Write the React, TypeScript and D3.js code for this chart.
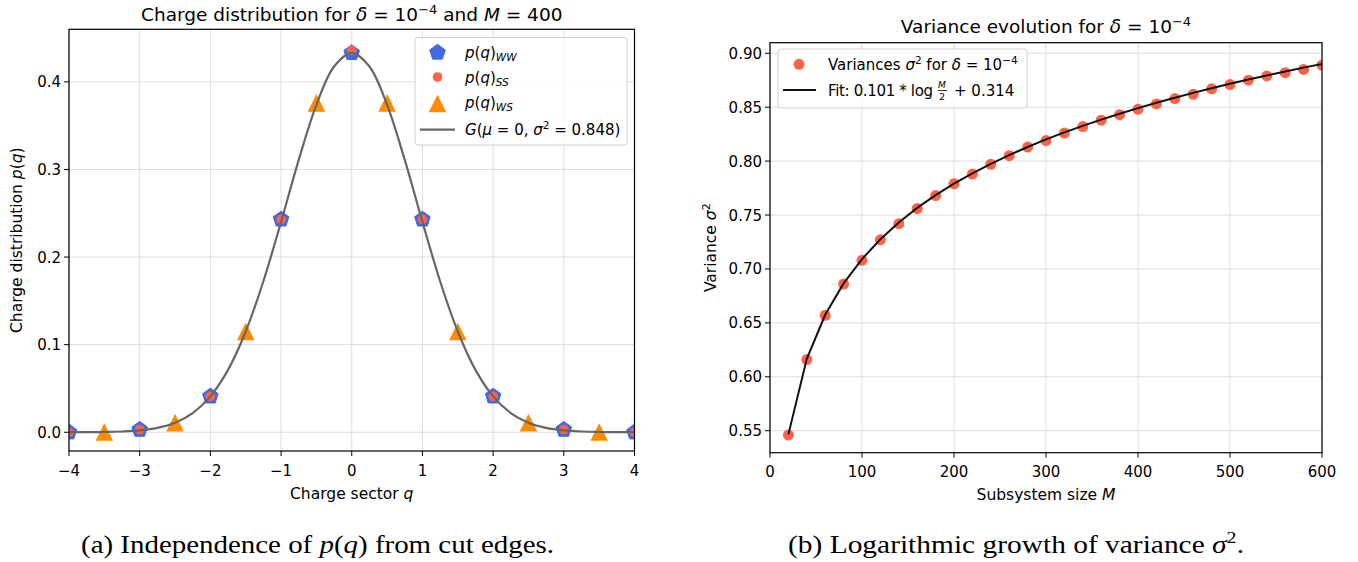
import React from "react";
import * as d3 from "d3";

// ---------- Data: left panel ----------
const qInt = [-4, -3, -2, -1, 0, 1, 2, 3, 4];
const pWW = [0.0, 0.003, 0.041, 0.243, 0.433, 0.243, 0.041, 0.003, 0.0];
const pSS = [0.0, 0.003, 0.041, 0.243, 0.436, 0.243, 0.041, 0.003, 0.0];
const qHalf = [-3.5, -2.5, -1.5, -0.5, 0.5, 1.5, 2.5, 3.5];
const pWS = [0.0003, 0.011, 0.115, 0.376, 0.376, 0.115, 0.011, 0.0003];
// Gaussian G(mu=0, sigma^2=0.848), sampled every 0.25
const gaussQ = [
  -4, -3.75, -3.5, -3.25, -3, -2.75, -2.5, -2.25, -2, -1.75, -1.5, -1.25, -1, -0.75, -0.5, -0.25, 0,
  0.25, 0.5, 0.75, 1, 1.25, 1.5, 1.75, 2, 2.25, 2.5, 2.75, 3, 3.25, 3.5, 3.75, 4,
];
const gaussP = [
  0.00003, 0.00011, 0.00032, 0.00086, 0.00215, 0.00502, 0.01087, 0.0219, 0.041, 0.0712, 0.115, 0.1724,
  0.2402, 0.3109, 0.3738, 0.4175, 0.4332, 0.4175, 0.3738, 0.3109, 0.2402, 0.1724, 0.115, 0.0712, 0.041,
  0.0219, 0.01087, 0.00502, 0.00215, 0.00086, 0.00032, 0.00011, 0.00003,
];
const leftXTicks = [-4, -3, -2, -1, 0, 1, 2, 3, 4];
const leftYTicks = [0.0, 0.1, 0.2, 0.3, 0.4];

// ---------- Data: right panel ----------
const sizesM = [
  20, 40, 60, 80, 100, 120, 140, 160, 180, 200, 220, 240, 260, 280, 300, 320, 340, 360, 380, 400, 420,
  440, 460, 480, 500, 520, 540, 560, 580, 600,
];
const variances = [
  0.546, 0.616, 0.657, 0.686, 0.708, 0.727, 0.742, 0.756, 0.768, 0.779, 0.788, 0.797, 0.805, 0.813,
  0.819, 0.826, 0.832, 0.838, 0.843, 0.848, 0.853, 0.858, 0.862, 0.867, 0.871, 0.875, 0.879, 0.882,
  0.885, 0.889,
];
const fitValues = [
  0.5466, 0.6166, 0.6575, 0.6866, 0.7091, 0.7275, 0.7431, 0.7566, 0.7685, 0.7791, 0.7887, 0.7975,
  0.8056, 0.8131, 0.8201, 0.8266, 0.8327, 0.8385, 0.8439, 0.8491, 0.8541, 0.8588, 0.8633, 0.8675,
  0.8717, 0.8756, 0.8794, 0.8831, 0.8867, 0.8901,
];
const rightXTicks = [0, 100, 200, 300, 400, 500, 600];
const rightYTicks = [0.55, 0.6, 0.65, 0.7, 0.75, 0.8, 0.85, 0.9];

const FONT = "DejaVu Sans, sans-serif";
const SERIF = "Liberation Serif, DejaVu Serif, serif";
const BLUE = "#4169e1";
const RED = "#ff6347";
const ORANGE = "#ff8c00";
const GRAY = "#666666";
const GRID = "#dddddd";
const TICK_FS = 15;
const LABEL_FS = 15.5;
const LEG_FS = 15;
const TITLE_FS = 18.5;

function pentagon(cx: number, cy: number, r: number) {
  const pts: string[] = [];
  for (let k = 0; k < 5; k++) {
    const a = -Math.PI / 2 + (k * 2 * Math.PI) / 5;
    pts.push(`${cx + r * Math.cos(a)},${cy + r * Math.sin(a)}`);
  }
  return "M" + pts.join("L") + "Z";
}
function triangle(cx: number, cy: number, h: number) {
  return `M${cx},${cy - h}L${cx - h},${cy + h}L${cx + h},${cy + h}Z`;
}

function LeftPanel() {
  const L = 69, R = 634.5, T = 29.3, B = 451;
  const x = d3.scaleLinear().domain([-4, 4]).range([L, R]);
  const y = d3.scaleLinear().domain([-0.0214, 0.46]).range([B, T]);
  const line = d3
    .line<number>()
    .x((_, i) => x(gaussQ[i]))
    .y((d) => y(d))
    .curve(d3.curveCatmullRom);
  const fmtX = (v: number) => (v < 0 ? "\u2212" + Math.abs(v) : String(v));
  return (
    <g fontFamily={FONT}>
      <defs>
        <clipPath id="clipL">
          <rect x={L} y={T} width={R - L} height={B - T} />
        </clipPath>
      </defs>
      {leftXTicks.map((t) => (
        <line key={"gx" + t} x1={x(t)} x2={x(t)} y1={T} y2={B} stroke={GRID} strokeWidth={1} />
      ))}
      {leftYTicks.map((t) => (
        <line key={"gy" + t} x1={L} x2={R} y1={y(t)} y2={y(t)} stroke={GRID} strokeWidth={1} />
      ))}
      <g clipPath="url(#clipL)">
        {qInt.map((q, i) => (
          <path key={"ww" + q} d={pentagon(x(q), y(pWW[i]), 8.2)} fill={BLUE} stroke={BLUE} strokeWidth={1} />
        ))}
        {qInt.map((q, i) => (
          <circle key={"ss" + q} cx={x(q)} cy={y(pSS[i])} r={4.8} fill={RED} />
        ))}
        {qHalf.map((q, i) => (
          <path key={"ws" + q} d={triangle(x(q), y(pWS[i]), 8.8)} fill={ORANGE} />
        ))}
        <path d={line(gaussP) || ""} fill="none" stroke={GRAY} strokeWidth={2.2} />
      </g>
      <rect x={L} y={T} width={R - L} height={B - T} fill="none" stroke="#000" strokeWidth={1.2} />
      {leftXTicks.map((t) => (
        <g key={"tx" + t}>
          <line x1={x(t)} x2={x(t)} y1={B} y2={B + 5} stroke="#000" strokeWidth={1} />
          <text x={x(t)} y={B + 24.5} fontSize={TICK_FS} textAnchor="middle">
            {fmtX(t)}
          </text>
        </g>
      ))}
      {leftYTicks.map((t) => (
        <g key={"ty" + t}>
          <line x1={L - 5} x2={L} y1={y(t)} y2={y(t)} stroke="#000" strokeWidth={1} />
          <text x={L - 8} y={y(t) + 5.5} fontSize={TICK_FS} textAnchor="end">
            {t.toFixed(1)}
          </text>
        </g>
      ))}
      <text x={(L + R) / 2} y={21} fontSize={TITLE_FS} textAnchor="middle">
        Charge distribution for <tspan fontStyle="italic">δ</tspan> = 10
        <tspan dy={-7} fontSize={13}>−4</tspan>
        <tspan dy={7}> and </tspan>
        <tspan fontStyle="italic">M</tspan> = 400
      </text>
      <text x={(L + R) / 2} y={498.5} fontSize={LABEL_FS} textAnchor="middle">
        Charge sector <tspan fontStyle="italic">q</tspan>
      </text>
      <text transform={`translate(22,${(T + B) / 2}) rotate(-90)`} fontSize={LABEL_FS} textAnchor="middle">
        Charge distribution <tspan fontStyle="italic">p</tspan>(<tspan fontStyle="italic">q</tspan>)
      </text>
      {/* legend */}
      <g>
        <rect x={415} y={37.5} width={212} height={107.5} rx={3} fill="#fff" fillOpacity={0.8} stroke="#d0d0d0" strokeWidth={1} />
        <path d={pentagon(437.5, 52.5, 8.2)} fill={BLUE} stroke={BLUE} />
        <circle cx={437.5} cy={77} r={4.8} fill={RED} />
        <path d={triangle(437.5, 103.5, 8.8)} fill={ORANGE} />
        <line x1={420} x2={455} y1={129.7} y2={129.7} stroke={GRAY} strokeWidth={2.2} />
        <text x={465} y={58} fontSize={LEG_FS}>
          <tspan fontStyle="italic">p</tspan>(<tspan fontStyle="italic">q</tspan>)
          <tspan fontStyle="italic" fontSize={10.5} dy={3}>WW</tspan>
        </text>
        <text x={465} y={82.5} fontSize={LEG_FS}>
          <tspan fontStyle="italic">p</tspan>(<tspan fontStyle="italic">q</tspan>)
          <tspan fontStyle="italic" fontSize={10.5} dy={3}>SS</tspan>
        </text>
        <text x={465} y={108} fontSize={LEG_FS}>
          <tspan fontStyle="italic">p</tspan>(<tspan fontStyle="italic">q</tspan>)
          <tspan fontStyle="italic" fontSize={10.5} dy={3}>WS</tspan>
        </text>
        <text x={465} y={135} fontSize={LEG_FS}>
          <tspan fontStyle="italic">G</tspan>(<tspan fontStyle="italic">μ</tspan> = 0, <tspan fontStyle="italic">σ</tspan>
          <tspan fontSize={10.5} dy={-6}>2</tspan>
          <tspan dy={6}> = 0.848)</tspan>
        </text>
      </g>
      <text
        x={317.5}
        y={552.5}
        fontSize={25}
        fontFamily={SERIF}
        textAnchor="middle"
        textLength={473}
        lengthAdjust="spacingAndGlyphs"
      >
        (a) Independence of <tspan fontStyle="italic">p</tspan>(<tspan fontStyle="italic">q</tspan>) from cut edges.
      </text>
    </g>
  );
}

function RightPanel() {
  const L = 770, R = 1322, T = 42.7, B = 452.7;
  const x = d3.scaleLinear().domain([0, 600]).range([L, R]);
  const y = d3.scaleLinear().domain([0.5296, 0.9098]).range([B, T]);
  const line = d3
    .line<number>()
    .x((_, i) => x(sizesM[i]))
    .y((d) => y(d));
  return (
    <g fontFamily={FONT}>
      <defs>
        <clipPath id="clipR">
          <rect x={L} y={T} width={R - L} height={B - T} />
        </clipPath>
      </defs>
      {rightXTicks.map((t) => (
        <line key={"gx" + t} x1={x(t)} x2={x(t)} y1={T} y2={B} stroke={GRID} strokeWidth={1} />
      ))}
      {rightYTicks.map((t) => (
        <line key={"gy" + t} x1={L} x2={R} y1={y(t)} y2={y(t)} stroke={GRID} strokeWidth={1} />
      ))}
      <g clipPath="url(#clipR)">
        {sizesM.map((m, i) => (
          <circle key={"v" + m} cx={x(m)} cy={y(variances[i])} r={5.5} fill={RED} />
        ))}
        <path d={line(fitValues) || ""} fill="none" stroke="#111" strokeWidth={2} />
      </g>
      <rect x={L} y={T} width={R - L} height={B - T} fill="none" stroke="#000" strokeWidth={1.2} />
      {rightXTicks.map((t) => (
        <g key={"tx" + t}>
          <line x1={x(t)} x2={x(t)} y1={B} y2={B + 5} stroke="#000" strokeWidth={1} />
          <text x={x(t)} y={B + 24} fontSize={TICK_FS} textAnchor="middle">
            {t}
          </text>
        </g>
      ))}
      {rightYTicks.map((t) => (
        <g key={"ty" + t}>
          <line x1={L - 5} x2={L} y1={y(t)} y2={y(t)} stroke="#000" strokeWidth={1} />
          <text x={L - 8} y={y(t) + 5.5} fontSize={TICK_FS} textAnchor="end">
            {t.toFixed(2)}
          </text>
        </g>
      ))}
      <text x={(L + R) / 2} y={32.5} fontSize={TITLE_FS} textAnchor="middle">
        Variance evolution for <tspan fontStyle="italic">δ</tspan> = 10
        <tspan dy={-7} fontSize={13}>−4</tspan>
      </text>
      <text x={(L + R) / 2} y={499.5} fontSize={LABEL_FS} textAnchor="middle">
        Subsystem size <tspan fontStyle="italic">M</tspan>
      </text>
      <text transform={`translate(716,${(T + B) / 2}) rotate(-90)`} fontSize={LABEL_FS} textAnchor="middle">
        Variance <tspan fontStyle="italic">σ</tspan>
        <tspan fontSize={11} dy={-6}>2</tspan>
      </text>
      {/* legend */}
      <g>
        <rect x={778} y={49} width={249} height={59} rx={3} fill="#fff" fillOpacity={0.8} stroke="#d0d0d0" strokeWidth={1} />
        <circle cx={799} cy={64.3} r={5.5} fill={RED} />
        <line x1={783} x2={816} y1={90} y2={90} stroke="#111" strokeWidth={2} />
        <text x={828} y={70} fontSize={LEG_FS}>
          Variances <tspan fontStyle="italic">σ</tspan>
          <tspan fontSize={10.5} dy={-6}>2</tspan>
          <tspan dy={6}> for </tspan>
          <tspan fontStyle="italic">δ</tspan> = 10
          <tspan fontSize={10.5} dy={-6}>−4</tspan>
        </text>
        <text x={828} y={95.5} fontSize={LEG_FS} textLength={105} lengthAdjust="spacing">
          Fit: 0.101 * log
        </text>
        <text x={942} y={88} fontSize={9} fontStyle="italic" textAnchor="middle">M</text>
        <line x1={938} x2={947} y1={90.5} y2={90.5} stroke="#000" strokeWidth={0.8} />
        <text x={942} y={99.5} fontSize={9} textAnchor="middle">2</text>
        <text x={954} y={95.5} fontSize={LEG_FS}>
          + 0.314
        </text>
      </g>
      <text
        x={1016}
        y={552.5}
        fontSize={25}
        fontFamily={SERIF}
        textAnchor="middle"
        textLength={456}
        lengthAdjust="spacingAndGlyphs"
      >
        (b) Logarithmic growth of variance <tspan fontStyle="italic">σ</tspan>
        <tspan fontSize={17} dy={-10}>2</tspan>
        <tspan dy={10}>.</tspan>
      </text>
    </g>
  );
}

export default function App() {
  return (
    <svg
      width={1358}
      height={562}
      viewBox="0 0 1358 562"
      style={{ position: "absolute", left: 0, top: 0, background: "#fff" }}
    >
      <rect width={1358} height={562} fill="#fff" />
      <LeftPanel />
      <RightPanel />
    </svg>
  );
}
